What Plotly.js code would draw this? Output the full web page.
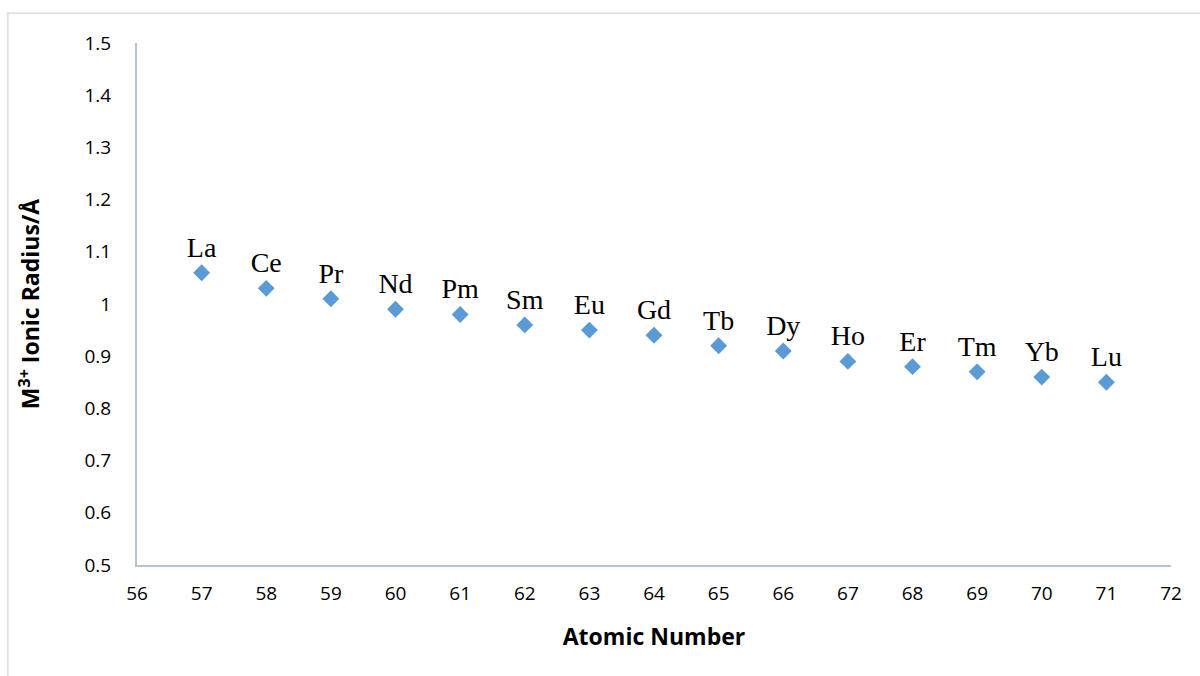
<!DOCTYPE html>
<html>
<head>
<meta charset="utf-8">
<script src="https://cdn.plot.ly/plotly-3.0.1.min.js"></script>
<style>
  html, body { margin: 0; padding: 0; background: #ffffff; }
  #chart { width: 1200px; height: 676px; }
</style>
</head>
<body>
<div id="chart"></div>
<script>
// Lanthanide contraction: M3+ ionic radius versus atomic number
const atomicNumber = [57, 58, 59, 60, 61, 62, 63, 64, 65, 66, 67, 68, 69, 70, 71];
const ionicRadius = [1.06, 1.03, 1.01, 0.99, 0.98, 0.96, 0.95, 0.94, 0.92, 0.91, 0.89, 0.88, 0.87, 0.86, 0.85];
const elementSymbols = ['La', 'Ce', 'Pr', 'Nd', 'Pm', 'Sm', 'Eu', 'Gd', 'Tb', 'Dy', 'Ho', 'Er', 'Tm', 'Yb', 'Lu'];

const xTicks = [56, 57, 58, 59, 60, 61, 62, 63, 64, 65, 66, 67, 68, 69, 70, 71, 72];
const yTicks = [0.5, 0.6, 0.7, 0.8, 0.9, 1.0, 1.1, 1.2, 1.3, 1.4, 1.5];
const yTickText = ['0.5', '0.6', '0.7', '0.8', '0.9', '1', '1.1', '1.2', '1.3', '1.4', '1.5'];

const axisColor = '#b7c2d5';
const tickFont = { family: 'Open Sans, sans-serif', size: 19, color: '#000000' };
const titleFont = { family: 'Open Sans, sans-serif', size: 23, color: '#000000', weight: 'bold' };

const trace = {
  type: 'scatter',
  mode: 'markers+text',
  x: atomicNumber,
  y: ionicRadius,
  text: elementSymbols,
  textposition: 'top center',
  textfont: { family: 'Liberation Serif, Times New Roman, serif', size: 28, color: '#000000' },
  marker: { symbol: 'diamond', size: 13, color: '#5b9bd5', line: { width: 0 } },
  cliponaxis: false,
  hoverinfo: 'x+y+text'
};

const layout = {
  width: 1200,
  height: 676,
  margin: { l: 137, r: 29, t: 43, b: 111 },
  paper_bgcolor: '#ffffff',
  plot_bgcolor: '#ffffff',
  showlegend: false,
  xaxis: {
    range: [56, 72],
    tickvals: xTicks,
    ticktext: xTicks.map(String),
    showgrid: false,
    zeroline: false,
    showline: true,
    linecolor: axisColor,
    linewidth: 2,
    ticks: 'outside',
    ticklen: 10,
    tickcolor: 'rgba(0,0,0,0)',
    tickfont: tickFont,
    title: { text: 'Atomic Number', font: titleFont, standoff: 24 }
  },
  yaxis: {
    range: [0.5, 1.5],
    tickvals: yTicks,
    ticktext: yTickText,
    showgrid: false,
    zeroline: false,
    showline: true,
    linecolor: axisColor,
    linewidth: 2,
    ticks: 'outside',
    ticklen: 20,
    tickcolor: 'rgba(0,0,0,0)',
    tickfont: tickFont,
    title: { text: 'M<sup>3+</sup> Ionic Radius/Å', font: titleFont, standoff: 38 }
  },
  shapes: [
    {
      type: 'rect',
      xref: 'paper', yref: 'paper',
      x0: -0.125, x1: 1.1,
      y0: -0.35, y1: 1.057,
      line: { color: '#dfe3e8', width: 2 },
      fillcolor: 'rgba(0,0,0,0)',
      layer: 'below'
    }
  ]
};

Plotly.newPlot('chart', [trace], layout, { displayModeBar: false, staticPlot: true });
</script>
</body>
</html>
